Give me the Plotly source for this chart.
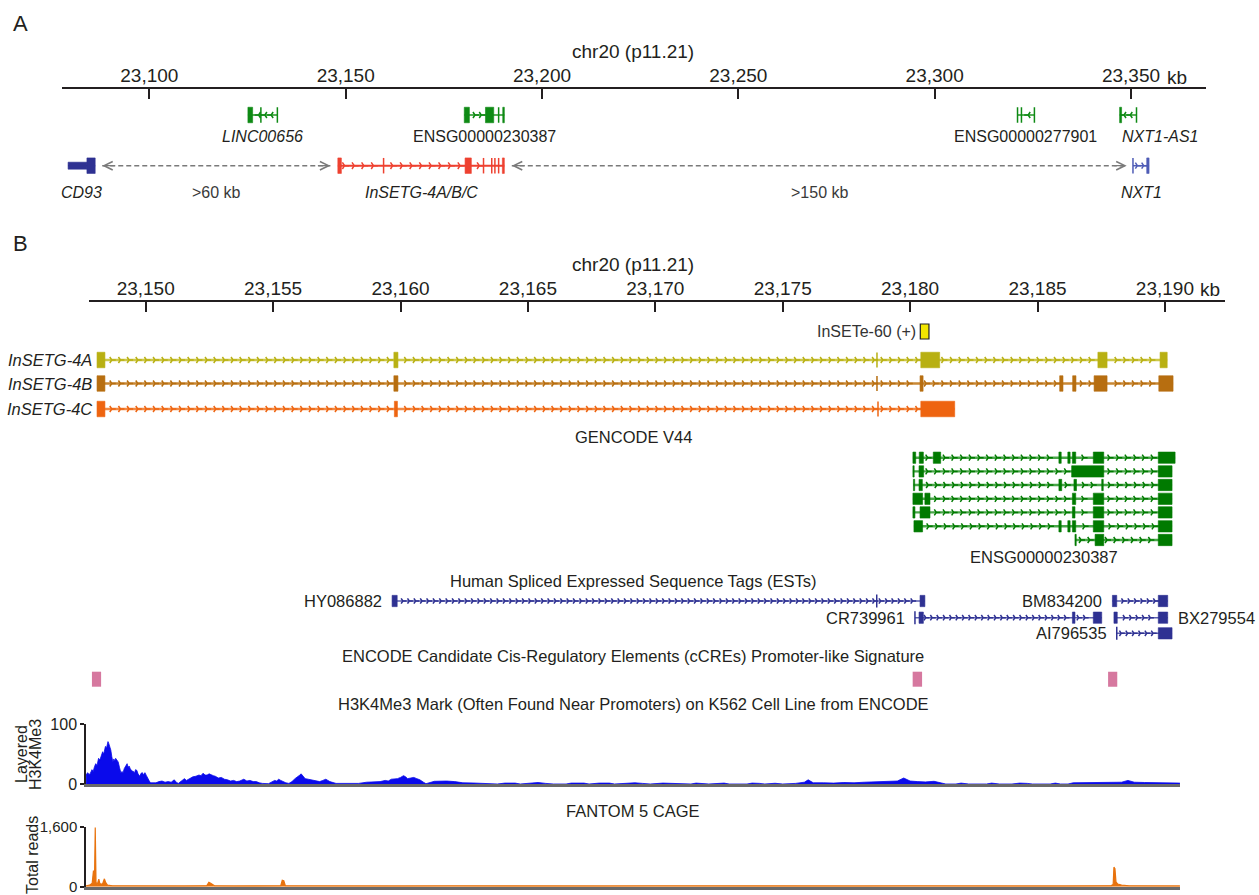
import plotly.graph_objects as go

W, H = 1259, 895
FONT = "Liberation Sans, Arial, Helvetica, sans-serif"
INK = "#231f20"

# ======================= DATA (chr20 positions in kb) =======================
A_TICKS = [23100, 23150, 23200, 23250, 23300, 23350]
A_TICK_LABELS = ["23,100", "23,150", "23,200", "23,250", "23,300", "23,350"]
B_TICKS = [23150, 23155, 23160, 23165, 23170, 23175, 23180, 23185, 23190]
B_TICK_LABELS = ["23,150", "23,155", "23,160", "23,165", "23,170", "23,175",
                 "23,180", "23,185", "23,190"]

# Panel A, row 1 (green GENCODE genes): name, italic, span, exons, marks, strand
A_GREEN_GENES = [
    ("LINC00656", True, (23125.1, 23132.6), [(23125.1, 23126.3)], [23128.4, 23132.6], "-"),
    ("ENSG00000230387", False, (23180.2, 23190.4),
     [(23180.2, 23181.5), (23185.6, 23187.7), (23190.0, 23190.4)], [23188.95], "+"),
    ("ENSG00000277901", False, (23321.1, 23325.4), [], [23321.1, 23322.1, 23325.4], "-"),
    ("NXT1-AS1", True, (23347.1, 23351.4), [(23347.1, 23347.6)], [23351.4], "-"),
]
# Panel A, row 2
A_CD93_UTR = [(23079.3, 23084.1)]
A_CD93_CDS = [(23084.1, 23086.2)]
A_INSETG_SPAN = (23148.0, 23190.4)
A_INSETG_EXONS = [(23148.0, 23148.9), (23180.4, 23182.0), (23189.9, 23190.4)]
A_INSETG_MARKS = [23159.65, 23185.1, 23187.2, 23188.0, 23188.95]
A_NXT1_SPAN = (23350.5, 23354.6)
A_NXT1_EXONS = [(23354.0, 23354.6)]
A_NXT1_MARKS = [23350.5]
A_GAPS = [(23088.0, 23146.1, ">60 kb"), (23192.3, 23348.9, ">150 kb")]

# Panel B: InSETG transcripts
INSETG_NAMES = ["InSETG-4A", "InSETG-4B", "InSETG-4C"]
INSETG_4A = [(23148.09, 23148.40), (23159.74, 23159.90), (23180.42, 23181.16),
             (23187.37, 23187.73), (23189.81, 23190.09)]
INSETG_4B = [(23148.09, 23148.40), (23159.74, 23159.90), (23180.39, 23180.51),
             (23185.87, 23186.00), (23186.38, 23186.51), (23187.22, 23187.73),
             (23189.76, 23190.32)]
INSETG_4C = [(23148.09, 23148.40), (23159.76, 23159.88), (23180.42, 23181.75)]
INSETG_MARKS = [[23178.70], [23178.70], [23178.74]]
INSETE_60 = (23180.40, 23180.74)

# GENCODE V44 transcripts of ENSG00000230387
GENCODE_V44 = [
    [(23180.11, 23180.22), (23180.36, 23180.52), (23180.91, 23181.20), (23185.84, 23185.93),
     (23186.19, 23186.28), (23186.37, 23186.50), (23187.19, 23187.60), (23189.74, 23190.40)],
    [(23180.11, 23180.16), (23180.35, 23180.53), (23186.34, 23187.60), (23189.74, 23190.28)],
    [(23180.13, 23180.18), (23180.35, 23180.48), (23185.84, 23185.95), (23186.43, 23186.53),
     (23187.52, 23187.58), (23189.74, 23190.28)],
    [(23180.11, 23180.49), (23180.58, 23180.78), (23186.37, 23186.50), (23187.19, 23187.60),
     (23189.74, 23190.28)],
    [(23180.11, 23180.19), (23180.39, 23180.78), (23186.37, 23186.47), (23187.19, 23187.60),
     (23189.74, 23190.28)],
    [(23180.15, 23180.49), (23185.84, 23185.93), (23186.19, 23186.28), (23186.37, 23186.50),
     (23187.19, 23187.60), (23189.74, 23190.28)],
    [(23186.47, 23186.52), (23187.26, 23187.60), (23189.74, 23190.28)],
]

# Spliced ESTs: name, row, exons, marks, label side
EST_NAMES = ["HY086882", "CR739961", "BM834200", "BX279554", "AI796535"]
EST_ROWS = [0, 1, 0, 1, 2]
EST_EXONS = [
    [(23159.67, 23159.87), (23180.39, 23180.58)],
    [(23180.35, 23180.52), (23186.37, 23186.47), (23187.19, 23187.52)],
    [(23187.94, 23188.11), (23189.74, 23190.11)],
    [(23188.00, 23188.13), (23189.74, 23190.11)],
    [(23189.74, 23190.28)],
]
EST_MARKS = [[23178.69], [23180.19], [], [], [23188.11]]
EST_LABEL_SIDE = ["left", "left", "left", "right", "left"]

# ENCODE cCREs (promoter-like)
CCRE = [(23147.89, 23148.25), (23180.10, 23180.47), (23187.77, 23188.13)]

# H3K4Me3 K562 signal (kb, signal)
H3K4ME3 = [
    (23147.66, 15), (23147.72, 19), (23147.78, 16), (23147.83, 18), (23147.89, 24), (23147.94, 21),
    (23147.99, 29), (23148.04, 34), (23148.09, 31), (23148.15, 43), (23148.20, 40), (23148.25, 47),
    (23148.31, 54), (23148.35, 50), (23148.39, 58), (23148.42, 63), (23148.46, 60), (23148.49, 67),
    (23148.52, 71), (23148.55, 68), (23148.59, 62), (23148.63, 57), (23148.67, 46), (23148.71, 37),
    (23148.75, 42), (23148.79, 38), (23148.82, 43), (23148.87, 40), (23148.92, 37), (23148.97, 28),
    (23149.03, 18), (23149.07, 21), (23149.11, 19), (23149.16, 26), (23149.22, 31), (23149.27, 34),
    (23149.31, 28), (23149.35, 30), (23149.39, 26), (23149.45, 22), (23149.52, 21), (23149.56, 18),
    (23149.60, 24), (23149.65, 23), (23149.70, 17), (23149.76, 13), (23149.82, 18), (23149.87, 19),
    (23149.92, 15), (23149.97, 19), (23150.03, 14), (23150.08, 9), (23150.14, 5),
    (23150.19, 2), (23150.40, 2), (23150.52, 4), (23150.64, 5), (23150.76, 3), (23150.88, 4),
    (23151.00, 3), (23151.12, 7), (23151.20, 3), (23151.28, 1), (23151.40, 5), (23151.52, 9),
    (23151.60, 6), (23151.69, 8), (23151.77, 10), (23151.85, 12), (23151.97, 13), (23152.09, 15),
    (23152.17, 14), (23152.25, 18), (23152.33, 15), (23152.41, 15), (23152.49, 17), (23152.57, 15),
    (23152.65, 14), (23152.73, 13), (23152.85, 10), (23152.97, 11), (23153.09, 8), (23153.21, 7),
    (23153.33, 5), (23153.45, 6), (23153.57, 4), (23153.69, 5), (23153.77, 7), (23153.85, 8),
    (23153.97, 5), (23154.09, 6), (23154.22, 4), (23154.34, 4), (23154.46, 2), (23154.58, 1),
    (23154.82, 0.5), (23154.94, 3), (23155.06, 6), (23155.14, 5), (23155.22, 8), (23155.30, 6),
    (23155.38, 4), (23155.50, 2), (23155.62, 1), (23155.74, 4), (23155.86, 9), (23155.98, 12),
    (23156.05, 15), (23156.10, 17), (23156.18, 13), (23156.26, 9), (23156.38, 8), (23156.50, 7),
    (23156.66, 5), (23156.83, 4), (23156.95, 6), (23157.07, 8), (23157.15, 6), (23157.23, 4),
    (23157.47, 1), (23157.87, 0.5), (23158.35, 1), (23158.67, 3), (23159.00, 3.5), (23159.20, 4),
    (23159.40, 6), (23159.52, 5), (23159.64, 8), (23159.76, 8), (23159.88, 9), (23160.00, 11),
    (23160.12, 14), (23160.20, 12), (23160.28, 9), (23160.40, 10), (23160.52, 11), (23160.64, 9),
    (23160.76, 7), (23160.90, 3), (23161.00, 0.5), (23161.33, 4.5), (23161.57, 5), (23161.81, 5),
    (23162.13, 4), (23162.45, 2), (23162.85, 1.7), (23163.17, 1), (23163.50, 1), (23163.80, 0),
    (23164.10, 1.5), (23164.50, 1.5), (23164.70, 0), (23165.10, 1), (23165.40, 2.5), (23165.70, 1),
    (23166.00, 0), (23166.50, 0), (23166.70, 1.5), (23167.20, 1.5), (23167.40, 0), (23167.80, 1.5),
    (23168.20, 1.5), (23168.40, 0), (23168.80, 1), (23169.20, 2), (23169.50, 1), (23169.80, 0),
    (23170.30, 1.5), (23170.70, 1), (23170.90, 0), (23171.40, 0), (23171.60, 1.5), (23171.90, 1),
    (23172.10, 0), (23172.70, 1.5), (23172.90, 0), (23173.60, 0), (23173.80, 1.5), (23174.10, 1),
    (23174.30, 0), (23174.70, 1.2), (23175.00, 0), (23175.50, 1), (23175.85, 3), (23176.00, 7),
    (23176.20, 2), (23176.60, 2), (23177.00, 1.5), (23177.40, 2.5), (23177.80, 2), (23178.20, 3),
    (23178.60, 3.5), (23178.90, 4), (23179.20, 3.5), (23179.50, 5), (23179.75, 10), (23180.00, 5),
    (23180.30, 4), (23180.60, 3.5), (23180.94, 4.5), (23181.25, 2), (23181.40, 0), (23181.80, 0),
    (23182.00, 1.5), (23182.30, 0), (23183.00, 0), (23183.20, 1.5), (23183.50, 0), (23184.00, 0),
    (23184.30, 1.5), (23184.60, 1), (23184.80, 0), (23185.50, 0), (23185.70, 1.5), (23185.90, 0),
    (23186.20, 0), (23186.40, 2), (23186.80, 2), (23187.20, 2.5), (23187.60, 2), (23188.00, 2),
    (23188.30, 3), (23188.55, 6), (23188.80, 3), (23189.20, 2.5), (23189.60, 2.5), (23190.00, 2),
    (23190.30, 2.5), (23190.59, 1.5),
]

# FANTOM 5 CAGE total reads (kb, reads)
CAGE = [
    (23147.66, 25), (23147.80, 40), (23147.90, 90), (23147.95, 430), (23147.99, 150),
    (23148.02, 1580), (23148.05, 120), (23148.10, 60), (23148.16, 200), (23148.20, 80),
    (23148.30, 60), (23148.38, 210), (23148.43, 110), (23148.50, 40), (23148.70, 25),
    (23149.50, 20), (23150.50, 25), (23151.50, 20), (23152.40, 30), (23152.48, 120),
    (23152.55, 95), (23152.62, 60), (23152.70, 25), (23153.50, 20), (23154.50, 25),
    (23155.30, 25), (23155.36, 170), (23155.42, 160), (23155.48, 25), (23156.50, 20),
    (23158.00, 25), (23160.00, 20), (23162.00, 25), (23164.00, 20), (23166.00, 25),
    (23168.00, 20), (23170.00, 25), (23172.00, 20), (23174.00, 25), (23176.00, 25),
    (23178.00, 20), (23180.00, 25), (23182.00, 20), (23184.00, 25), (23186.00, 20),
    (23187.90, 30), (23187.97, 60), (23188.00, 520), (23188.04, 480), (23188.08, 130),
    (23188.15, 70), (23188.30, 40), (23188.60, 25), (23190.59, 20),
]

# ======================= LAYOUT CONSTANTS (pixels) =======================
def fx(p):
    return p / W


def fy(p):
    return 1 - p / H


A_DOMAIN, A_RANGE, A_RULER_Y = (62, 1206), (23077.75, 23369.1), 87.7
B_DOMAIN, B_RANGE, B_RULER_Y = (89, 1225.3), (23147.775, 23192.37), 301
S_DOMAIN, S_RANGE = (86, 1180), (23147.657, 23190.593)

GREEN_E, GREEN_L = "#0e8a14", "#1f941f"
RED = "#ee4130"
BLUE_DARK, BLUE_LIGHT = "#2e3192", "#4f5cb6"
C4A_E, C4A_L = "#b8b012", "#cdc84a"
C4B_E, C4B_L = "#b76e10", "#c98835"
C4C_E, C4C_L = "#ee6410", "#f28a45"
GC_E, GC_L = "#007a00", "#4aa64a"
EST_E, EST_L = "#2e3192", "#5a5eae"
PINK = "#d6789f"
SIG_BLUE = "#0a0aeb"
CAGE_OR = "#e8730e"
GREY = "#7a7a7a"

traces, shapes, annotations = [], [], []


def rect(ax, a, b, yc, h, color):
    shapes.append(dict(type="rect", xref=ax, yref="y", x0=a, x1=b, y0=yc - h / 2, y1=yc + h / 2,
                       fillcolor=color, line=dict(color=color, width=0.6), layer="above"))


def gene(ax, yc, span, exons, marks, strand, ecol, lcol, eh, lw, step, csize,
         mark_h=None, utr=(), utr_h=None):
    traces.append(go.Scatter(x=[span[0], span[1]], y=[yc, yc], xaxis=ax, yaxis="y", mode="lines",
                             line=dict(color=lcol, width=lw), hoverinfo="skip", showlegend=False))
    if step:
        blocks = list(exons) + list(utr) + [(m, m) for m in marks]
        pos, p = [], span[0] + step * 0.7
        while p < span[1] - step * 0.4:
            if all(p < a - step * 0.3 or p > b + step * 0.3 for a, b in blocks):
                pos.append(p)
            p += step
        traces.append(go.Scatter(
            x=pos, y=[yc] * len(pos), xaxis=ax, yaxis="y", mode="markers",
            marker=dict(symbol="y-right" if strand == "+" else "y-left", size=csize, color=ecol,
                        line=dict(color=ecol, width=1.5)),
            hoverinfo="skip", showlegend=False))
    for a, b in utr:
        rect(ax, a, b, yc, utr_h, ecol)
    for a, b in exons:
        rect(ax, a, b, yc, eh, ecol)
    mh = mark_h if mark_h else eh
    for m in marks:
        shapes.append(dict(type="line", xref=ax, yref="y", x0=m, x1=m, y0=yc - mh / 2, y1=yc + mh / 2,
                           line=dict(color=ecol, width=1.5), layer="above"))


def text(x, y, s, size=16, xanchor="center", xref="paper", xshift=0, color=INK, angle=0):
    annotations.append(dict(x=fx(x) if xref == "paper" else x, y=y, xref=xref, yref="y", text=s,
                            showarrow=False, xanchor=xanchor, yanchor="middle", xshift=xshift,
                            textangle=angle, font=dict(size=size, color=color, family=FONT)))


# ----------------------------- Panel A -----------------------------
text(21, 23, "A", size=22)
text(633, 51, "chr20 (p11.21)", size=19)
text(1165, 77, "kb", size=19, xanchor="left")

A_ROW1, A_ROW2, A_LBL1, A_LBL2 = 115, 165.7, 136, 192.3
for name, ital, span, ex, mk, strand in A_GREEN_GENES:
    gene("x", A_ROW1, span, ex, mk, strand, GREEN_E, GREEN_L, 15.5, 1.5, 1.6, 5, mark_h=15.5)
    lab = f"<i>{name}</i>" if ital else name
    if name == "NXT1-AS1":
        annotations.append(dict(x=span[0], y=A_LBL1, xref="x", yref="y", text=lab, showarrow=False,
                                xanchor="left", yanchor="middle",
                                font=dict(size=16, color=INK, family=FONT)))
    else:
        annotations.append(dict(x=(span[0] + span[1]) / 2, y=A_LBL1, xref="x", yref="y", text=lab,
                                showarrow=False, xanchor="center", yanchor="middle",
                                font=dict(size=16, color=INK, family=FONT)))

cd_span = (A_CD93_UTR[0][0], A_CD93_CDS[-1][1])
gene("x", A_ROW2, cd_span, A_CD93_CDS, [], "-", BLUE_DARK, BLUE_DARK, 15.5, 1.5, 0, 0,
     utr=A_CD93_UTR, utr_h=7)
gene("x", A_ROW2, A_INSETG_SPAN, A_INSETG_EXONS, A_INSETG_MARKS, "+", RED, RED, 15.5, 2, 2.45, 5.5)
gene("x", A_ROW2, A_NXT1_SPAN, A_NXT1_EXONS, A_NXT1_MARKS, "+", BLUE_LIGHT, BLUE_LIGHT, 15.5, 1.5,
     1.6, 5)
for nm, span in [("CD93", cd_span), ("InSETG-4A/B/C", A_INSETG_SPAN), ("NXT1", A_NXT1_SPAN)]:
    annotations.append(dict(x=(span[0] + span[1]) / 2, y=A_LBL2, xref="x", yref="y",
                            text=f"<i>{nm}</i>", showarrow=False, xanchor="center", yanchor="middle",
                            font=dict(size=16, color=INK, family=FONT)))

for a, b, lab in A_GAPS:
    shapes.append(dict(type="line", xref="x", yref="y", x0=a, x1=b, y0=A_ROW2, y1=A_ROW2,
                       line=dict(color=GREY, width=1.5, dash="5px,3px")))
    for xh, axo in [(a, 14), (b, -14)]:
        annotations.append(dict(x=xh, y=A_ROW2, xref="x", yref="y", ax=axo, ay=0, text="",
                                showarrow=True, arrowhead=5, arrowsize=1.3, arrowwidth=1.3,
                                arrowcolor=GREY))
    annotations.append(dict(x=(a + b) / 2, y=A_LBL2, xref="x", yref="y", text=lab, showarrow=False,
                            font=dict(size=16, color="#3a3a3a", family=FONT)))

# ----------------------------- Panel B -----------------------------
text(21, 243, "B", size=22)
text(633, 264, "chr20 (p11.21)", size=19)
text(1198, 289, "kb", size=19, xanchor="left")

B_ROWS = [360, 383.5, 409]
for i, (exons, ecol, lcol) in enumerate([(INSETG_4A, C4A_E, C4A_L), (INSETG_4B, C4B_E, C4B_L),
                                          (INSETG_4C, C4C_E, C4C_L)]):
    span = (exons[0][0], exons[-1][1])
    gene("x2", B_ROWS[i], span, exons, INSETG_MARKS[i], "+", ecol, lcol, 15.5, 2.6, 0.34, 5,
         mark_h=15)
    text(94, B_ROWS[i], f"<i>{INSETG_NAMES[i]}</i>", size=16.5, xanchor="right")

INSETE_Y = 331.5
shapes.append(dict(type="rect", xref="x2", yref="y", x0=INSETE_60[0], x1=INSETE_60[1],
                   y0=INSETE_Y - 7.5, y1=INSETE_Y + 7.5, fillcolor="#f2e600",
                   line=dict(color="#222222", width=1.2)))
annotations.append(dict(x=INSETE_60[0], y=INSETE_Y, xref="x2", yref="y", text="InSETe-60 (+)",
                        showarrow=False, xanchor="right", yanchor="middle", xshift=-2,
                        font=dict(size=16, color="#333333", family=FONT)))

text(633, 437, "GENCODE V44", size=16.5)
GC_ROWS = [457.7, 471.4, 485, 498.8, 512.4, 526.3, 540]
for i, exons in enumerate(GENCODE_V44):
    span = (exons[0][0], exons[-1][1])
    gene("x2", GC_ROWS[i], span, exons, [], "+", GC_E, GC_L, 11.3, 2.4, 0.34, 5)
gc_lo = min(e[0][0] for e in GENCODE_V44)
gc_hi = max(e[-1][1] for e in GENCODE_V44)
annotations.append(dict(x=(gc_lo + gc_hi) / 2, y=557, xref="x2", yref="y", text="ENSG00000230387",
                        showarrow=False, font=dict(size=16.5, color=INK, family=FONT)))

text(633, 581, "Human Spliced Expressed Sequence Tags (ESTs)", size=16.5)
EST_Y = [601, 617.7, 633.3]
for name, row, exons, marks, side in zip(EST_NAMES, EST_ROWS, EST_EXONS, EST_MARKS, EST_LABEL_SIDE):
    lo = min([e[0] for e in exons] + marks)
    hi = max([e[1] for e in exons] + marks)
    gene("x2", EST_Y[row], (lo, hi), exons, marks, "+", EST_E, EST_L, 11.3, 1.5, 0.25, 4.5, mark_h=13)
    if side == "left":
        annotations.append(dict(x=lo, y=EST_Y[row], xref="x2", yref="y", text=name, showarrow=False,
                                xanchor="right", xshift=-8,
                                font=dict(size=16.5, color=INK, family=FONT)))
    else:
        annotations.append(dict(x=hi, y=EST_Y[row], xref="x2", yref="y", text=name, showarrow=False,
                                xanchor="left", xshift=8,
                                font=dict(size=16.5, color=INK, family=FONT)))

text(633, 656, "ENCODE Candidate Cis-Regulatory Elements (cCREs) Promoter-like Signature", size=16.5)
for a, b in CCRE:
    shapes.append(dict(type="rect", xref="x2", yref="y", x0=a, x1=b, y0=671.7, y1=686.7,
                       fillcolor=PINK, line=dict(width=0)))

text(633, 704, "H3K4Me3 Mark (Often Found Near Promoters) on K562 Cell Line from ENCODE", size=16.5)
traces.append(go.Scatter(x=[p[0] for p in H3K4ME3], y=[p[1] for p in H3K4ME3], xaxis="x3",
                         yaxis="y2", mode="lines", fill="tozeroy", fillcolor=SIG_BLUE,
                         line=dict(color=SIG_BLUE, width=0.8), hoverinfo="skip", showlegend=False))
text(21, 754, "Layered", size=16, angle=-90)
text(35, 755, "H3K4Me3", size=16, angle=-90)

text(633, 811, "FANTOM 5 CAGE", size=16.5)
traces.append(go.Scatter(x=[p[0] for p in CAGE], y=[p[1] for p in CAGE], xaxis="x4", yaxis="y3",
                         mode="lines", fill="tozeroy", fillcolor=CAGE_OR,
                         line=dict(color=CAGE_OR, width=1.2), hoverinfo="skip", showlegend=False))
text(32, 855, "Total reads", size=16, angle=-90)

ruler = dict(anchor="free", side="top", showline=True, linecolor=INK, linewidth=2,
             ticks="inside", ticklen=10, tickwidth=2, tickcolor=INK, ticklabelstandoff=-3,
             tickfont=dict(size=19, color=INK, family=FONT), showgrid=False, zeroline=False,
             fixedrange=True, automargin=False)
sig_x = dict(domain=[fx(S_DOMAIN[0]), fx(S_DOMAIN[1])], range=list(S_RANGE), showline=True,
             linecolor="#6a6a6a", linewidth=2.5, ticks="", showticklabels=False, showgrid=False,
             zeroline=False, fixedrange=True, automargin=False)
sig_y = dict(showline=True, linecolor=INK, linewidth=1.5, ticks="outside", ticklen=4, tickwidth=1.5,
             tickcolor=INK, showgrid=False, zeroline=False, fixedrange=True, automargin=False)

fig = go.Figure(traces)
fig.update_layout(
    template="none",
    width=W, height=H, margin=dict(l=0, r=0, t=0, b=0, pad=0, autoexpand=False), autosize=False,
    paper_bgcolor="white", plot_bgcolor="rgba(0,0,0,0)", showlegend=False,
    font=dict(family=FONT, color=INK),
    xaxis=dict(domain=[fx(A_DOMAIN[0]), fx(A_DOMAIN[1])], range=list(A_RANGE),
               position=fy(A_RULER_Y), tickvals=A_TICKS, ticktext=A_TICK_LABELS, **ruler),
    xaxis2=dict(domain=[fx(B_DOMAIN[0]), fx(B_DOMAIN[1])], range=list(B_RANGE),
                position=fy(B_RULER_Y), tickvals=B_TICKS, ticktext=B_TICK_LABELS, **ruler),
    xaxis3=dict(anchor="y2", **sig_x),
    xaxis4=dict(anchor="y3", **sig_x),
    yaxis=dict(domain=[0, 1], range=[H, 0], visible=False, fixedrange=True, automargin=False),
    yaxis2=dict(domain=[fy(784), fy(724.3)], range=[0, 100], anchor="x3", tickvals=[0, 100],
                ticktext=["0", "100"], tickfont=dict(size=16, color=INK, family=FONT), **sig_y),
    yaxis3=dict(domain=[fy(886.7), fy(826.7)], range=[0, 1600], anchor="x4", tickvals=[0, 1600],
                ticktext=["0", "1,600"], tickfont=dict(size=15, color=INK, family=FONT), **sig_y),
    shapes=shapes, annotations=annotations,
)
fig.write_html("out.html", config={"displayModeBar": False},
               post_script="document.body.style.margin='0';document.body.style.overflow='hidden';")
